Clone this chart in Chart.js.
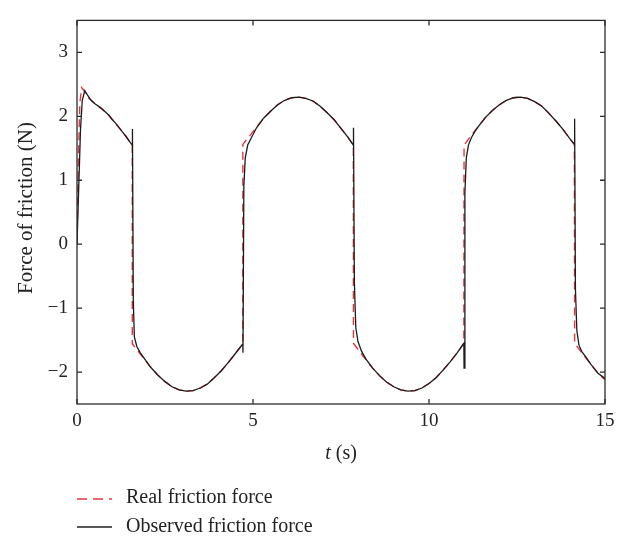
<!DOCTYPE html>
<html>
<head>
<meta charset="utf-8">
<script src="https://cdn.jsdelivr.net/npm/chart.js@4"></script>
<style>
  body { margin: 0; background: #fff; }
  #wrap { width: 624px; height: 539px; }
</style>
</head>
<body>
<div id="wrap"><canvas id="friction" width="624" height="539"></canvas></div>
<script>
// real friction force (dashed red)
const realT = [0, 0.04, 0.08, 0.13, 0.2, 0.3, 0.4, 0.5, 0.6, 0.7, 0.8, 0.9, 1.0, 1.1, 1.2, 1.3, 1.4, 1.5, 1.57,
  1.571, 1.7, 1.9, 2.1, 2.3, 2.5, 2.7, 2.9, 3.1, 3.3, 3.5, 3.7, 3.9, 4.1, 4.3, 4.5, 4.71,
  4.712, 4.9, 5.1, 5.3, 5.5, 5.7, 5.9, 6.1, 6.3, 6.5, 6.7, 6.9, 7.1, 7.3, 7.5, 7.7, 7.85,
  7.854, 8.0, 8.2, 8.4, 8.6, 8.8, 9.0, 9.2, 9.4, 9.6, 9.8, 10.0, 10.2, 10.4, 10.6, 10.8, 10.99,
  10.996, 11.2, 11.4, 11.6, 11.8, 12.0, 12.2, 12.4, 12.6, 12.8, 13.0, 13.2, 13.4, 13.6, 13.8, 14.0, 14.13,
  14.137, 14.3, 14.5, 14.7, 14.9, 15.0];
const realF = [0, 1.3, 2.2, 2.45, 2.4, 2.3, 2.25, 2.2, 2.16, 2.12, 2.07, 2.02, 1.95, 1.89, 1.82, 1.75, 1.68, 1.6, 1.55,
  -1.56, -1.65, -1.79, -1.93, -2.05, -2.15, -2.23, -2.28, -2.3, -2.29, -2.25, -2.19, -2.09, -1.98, -1.85, -1.71, -1.56,
  1.56, 1.69, 1.83, 1.97, 2.08, 2.18, 2.25, 2.29, 2.3, 2.28, 2.24, 2.16, 2.06, 1.95, 1.81, 1.67, 1.55,
  -1.55, -1.66, -1.8, -1.94, -2.06, -2.16, -2.23, -2.28, -2.3, -2.29, -2.25, -2.18, -2.09, -1.97, -1.84, -1.7, -1.55,
  1.55, 1.7, 1.84, 1.98, 2.09, 2.18, 2.25, 2.29, 2.3, 2.28, 2.23, 2.16, 2.05, 1.93, 1.8, 1.65, 1.56,
  -1.55, -1.67, -1.81, -1.95, -2.07, -2.12];

// observed friction force (solid black)
const obsT = [0, 0.05, 0.1, 0.15, 0.22, 0.3, 0.4, 0.5, 0.6, 0.7, 0.8, 0.9, 1.0, 1.1, 1.2, 1.3, 1.4, 1.5, 1.57,
  1.575, 1.6, 1.63, 1.7, 1.8, 1.9, 2.1, 2.3, 2.5, 2.7, 2.9, 3.1, 3.3, 3.5, 3.7, 3.9, 4.1, 4.3, 4.5, 4.71,
  4.715, 4.74, 4.78, 4.85, 4.95, 5.1, 5.3, 5.5, 5.7, 5.9, 6.1, 6.3, 6.5, 6.7, 6.9, 7.1, 7.3, 7.5, 7.7, 7.85,
  7.855, 7.88, 7.92, 7.98, 8.08, 8.2, 8.4, 8.6, 8.8, 9.0, 9.2, 9.4, 9.6, 9.8, 10.0, 10.2, 10.4, 10.6, 10.8, 10.99,
  10.996, 11.02, 11.06, 11.12, 11.2, 11.3, 11.4, 11.6, 11.8, 12.0, 12.2, 12.4, 12.6, 12.8, 13.0, 13.2, 13.4, 13.6, 13.8, 14.0, 14.13,
  14.137, 14.16, 14.2, 14.26, 14.34, 14.45, 14.6, 14.8, 15.0];
const obsF = [0, 0.9, 1.8, 2.25, 2.4, 2.33, 2.25, 2.2, 2.16, 2.12, 2.07, 2.02, 1.95, 1.89, 1.82, 1.75, 1.68, 1.6, 1.55,
  1.8, -0.9, -1.45, -1.6, -1.7, -1.78, -1.93, -2.05, -2.15, -2.23, -2.28, -2.3, -2.29, -2.25, -2.19, -2.09, -1.98, -1.85, -1.71, -1.56,
  -1.7, 0.9, 1.35, 1.55, 1.66, 1.82, 1.97, 2.08, 2.18, 2.25, 2.29, 2.3, 2.28, 2.24, 2.16, 2.06, 1.95, 1.81, 1.67, 1.55,
  1.82, -0.6, -1.3, -1.52, -1.67, -1.79, -1.94, -2.06, -2.16, -2.23, -2.28, -2.3, -2.29, -2.25, -2.18, -2.09, -1.97, -1.84, -1.7, -1.55,
  -1.94, 0.8, 1.35, 1.55, 1.66, 1.76, 1.84, 1.98, 2.09, 2.18, 2.25, 2.29, 2.3, 2.28, 2.23, 2.16, 2.05, 1.93, 1.8, 1.65, 1.56,
  1.96, -0.7, -1.35, -1.58, -1.68, -1.76, -1.88, -2.02, -2.1];

const xTicks = [0, 5, 10, 15];
const yTicks = [-2, -1, 0, 1, 2, 3];

const serif = '"Liberation Serif", "DejaVu Serif", serif';
const frameColor = "#2b2b2b";
const redColor = "rgb(232, 52, 62)";

function toPoints(ts, fs) {
  return ts.map((t, i) => ({ x: t, y: fs[i] }));
}

// box, inward ticks, axis titles and the legend under the plot
const decorations = {
  id: "decorations",
  afterDraw(chart) {
    const ctx = chart.ctx;
    const a = chart.chartArea;
    const xs = chart.scales.x;
    const ys = chart.scales.y;
    ctx.save();
    ctx.strokeStyle = frameColor;
    ctx.lineWidth = 1.3;
    ctx.strokeRect(a.left, a.top, a.right - a.left, a.bottom - a.top);
    ctx.beginPath();
    xTicks.forEach((v) => {
      const px = xs.getPixelForValue(v);
      ctx.moveTo(px, a.bottom);
      ctx.lineTo(px, a.bottom - 5);
      ctx.moveTo(px, a.top);
      ctx.lineTo(px, a.top + 5);
    });
    yTicks.forEach((v) => {
      const py = ys.getPixelForValue(v);
      ctx.moveTo(a.left, py);
      ctx.lineTo(a.left + 5, py);
      ctx.moveTo(a.right, py);
      ctx.lineTo(a.right - 5, py);
    });
    ctx.stroke();

    ctx.fillStyle = "#222";
    ctx.textBaseline = "middle";

    // x title: italic t followed by the unit
    const cx = (a.left + a.right) / 2;
    ctx.font = "italic 20px " + serif;
    const tW = ctx.measureText("t").width;
    ctx.font = "20px " + serif;
    const restW = ctx.measureText(" (s)").width;
    const startX = cx - (tW + restW) / 2;
    ctx.textAlign = "left";
    ctx.font = "italic 20px " + serif;
    ctx.fillText("t", startX, 454);
    ctx.font = "20px " + serif;
    ctx.fillText(" (s)", startX + tW, 454);

    // y title
    ctx.save();
    ctx.translate(26, 208);
    ctx.rotate(-Math.PI / 2);
    ctx.textAlign = "center";
    ctx.font = "21px " + serif;
    ctx.fillText("Force of friction (N)", 0, 0);
    ctx.restore();

    // legend
    ctx.lineWidth = 1.4;
    ctx.strokeStyle = redColor;
    ctx.setLineDash([10, 6]);
    ctx.beginPath();
    ctx.moveTo(77, 499);
    ctx.lineTo(112, 499);
    ctx.stroke();
    ctx.setLineDash([]);
    ctx.strokeStyle = "#222";
    ctx.beginPath();
    ctx.moveTo(77, 527);
    ctx.lineTo(112, 527);
    ctx.stroke();
    ctx.font = "20px " + serif;
    ctx.textAlign = "left";
    ctx.fillText("Real friction force", 126, 498);
    ctx.fillText("Observed friction force", 126, 527);
    ctx.restore();
  },
};

new Chart(document.getElementById("friction"), {
  type: "scatter",
  data: {
    datasets: [
      {
        label: "Real friction force",
        data: toPoints(realT, realF),
        showLine: true,
        borderColor: redColor,
        borderWidth: 1.4,
        borderDash: [8, 5],
        pointRadius: 0,
        tension: 0,
        order: 2,
      },
      {
        label: "Observed friction force",
        data: toPoints(obsT, obsF),
        showLine: true,
        borderColor: "#1c1c1c",
        borderWidth: 1.3,
        pointRadius: 0,
        tension: 0,
        order: 1,
      },
    ],
  },
  options: {
    responsive: false,
    animation: false,
    devicePixelRatio: 1,
    layout: { padding: { top: 6, right: 19, left: 0, bottom: 0 } },
    plugins: { legend: { display: false }, tooltip: { enabled: false } },
    scales: {
      x: {
        type: "linear",
        min: 0,
        max: 15,
        grid: { display: false, drawTicks: false },
        border: { display: false },
        afterBuildTicks: (s) => { s.ticks = xTicks.map((v) => ({ value: v })); },
        afterFit: (s) => { s.height = 135; },
        ticks: { color: "#222", padding: 6, font: { family: serif, size: 19 } },
      },
      y: {
        min: -2.5,
        max: 3.5,
        grid: { display: false, drawTicks: false },
        border: { display: false },
        afterBuildTicks: (s) => { s.ticks = yTicks.map((v) => ({ value: v })); },
        afterFit: (s) => { s.width = 77; },
        ticks: {
          color: "#222",
          padding: 9,
          font: { family: serif, size: 19 },
          callback: (v) => (v < 0 ? "\u2212" + Math.abs(v) : String(v)),
        },
      },
    },
  },
  plugins: [decorations],
});
</script>
</body>
</html>
